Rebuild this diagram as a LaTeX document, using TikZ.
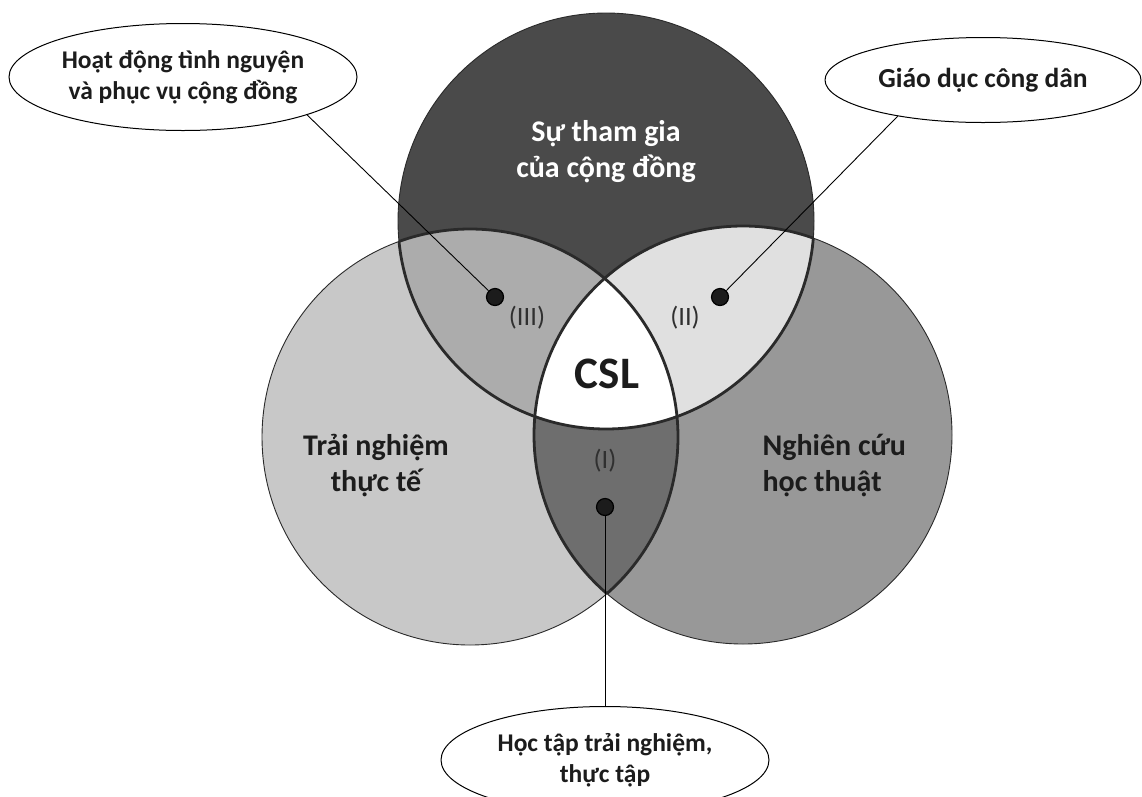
\documentclass[tikz,border=0pt]{standalone}
\usepackage{fontspec}
\setmainfont{Carlito}
\usetikzlibrary{shapes.geometric}

\definecolor{topgray}{HTML}{4A4A4A}
\definecolor{leftgray}{HTML}{C8C8C8}
\definecolor{rightgray}{HTML}{989898}
\definecolor{lensthree}{HTML}{ACACAC}
\definecolor{lenstwo}{HTML}{E0E0E0}
\definecolor{lensone}{HTML}{6E6E6E}
\definecolor{rimgray}{HTML}{2A2A2A}
\definecolor{textgray}{HTML}{1C1C1C}
\definecolor{zonegray}{HTML}{303030}

\newcommand{\circTop}{(606,221) circle[radius=208pt]}
\newcommand{\circLeft}{(470,437) circle[radius=208pt]}
\newcommand{\circRight}{(743,435) circle[radius=209pt]}

\begin{document}
\begin{tikzpicture}[x=1pt,y=-1pt,
		bubble/.style={ellipse,draw=black,fill=white,line width=1pt,inner sep=0pt,align=center,text=textgray,font=\fontsize{25.5}{31}\selectfont\bfseries},
		dot/.style={circle,draw=black,fill=textgray,line width=1.2pt,inner sep=0pt,minimum size=17pt},
		setname/.style={align=center,text=textgray,font=\fontsize{30}{36}\selectfont\bfseries},
		zone/.style={text=zonegray,font=\fontsize{26.5}{30}\selectfont},
		rim/.style={draw=rimgray,line width=0.9pt},
		link/.style={draw=black,line width=0.9pt}]
			\clip (0,0) rectangle (1142,796);
			% circles and overlaps
			\fill[leftgray] \circLeft;
			\fill[rightgray] \circRight;
			\fill[topgray] \circTop;
			\begin{scope} \clip \circTop; \fill[lensthree] \circLeft; \end{scope}
			\begin{scope} \clip \circTop; \fill[lenstwo] \circRight; \end{scope}
			\begin{scope} \clip \circLeft; \fill[lensone] \circRight; \end{scope}
			\begin{scope} \clip \circTop; \clip \circLeft; \fill[white] \circRight; \end{scope}
			\draw[rim] \circTop \circLeft \circRight;
			\begin{scope} \clip \circLeft \circRight; \draw[rim,line width=2.8pt] \circTop; \end{scope}
			\begin{scope} \clip \circTop \circRight; \draw[rim,line width=2.8pt] \circLeft; \end{scope}
			\begin{scope} \clip \circTop \circLeft; \draw[rim,line width=2.8pt] \circRight; \end{scope}
			% texts in the circles
			\node[setname,text=white] (community) at (606,152) {Sự tham gia\\của cộng đồng};
			\node[setname] (practice) at (376,466) {Trải nghiệm\\thực tế};
			\node[setname,align=left,anchor=west] (research) at (759,466) {Nghiên cứu\\học thuật};
			\node[text=textgray,font=\fontsize{45}{45}\selectfont\bfseries] (csl) at (607,374) {CSL};
			\node[zone] (z3) at (527,318) {(III)};
			\node[zone] (z2) at (685,318) {(II)};
			\node[zone] (z1) at (605,461) {(I)};
			% callouts
			\node[bubble,minimum width=348pt,minimum height=107pt] (volunteer) at (183,77) {Hoạt động tình nguyện\\và phục vụ cộng đồng};
			\node[bubble,minimum width=316pt,minimum height=85pt,font=\fontsize{27.5}{31}\selectfont\bfseries] (civic) at (983,80) {Giáo dục công dân};
			\node[bubble,minimum width=328pt,minimum height=107pt] (intern) at (605,760) {Học tập trải nghiệm,\\thực tập};
			\node[dot] (d3) at (495,297) {};
			\node[dot] (d2) at (720,297) {};
			\node[dot] (d1) at (605,507) {};
			\draw[link] (d3) -- (volunteer.-17);
			\draw[link] (d2) -- (civic.203);
			\draw[link] (d1) -- (intern);
		\end{tikzpicture}
\end{document}
